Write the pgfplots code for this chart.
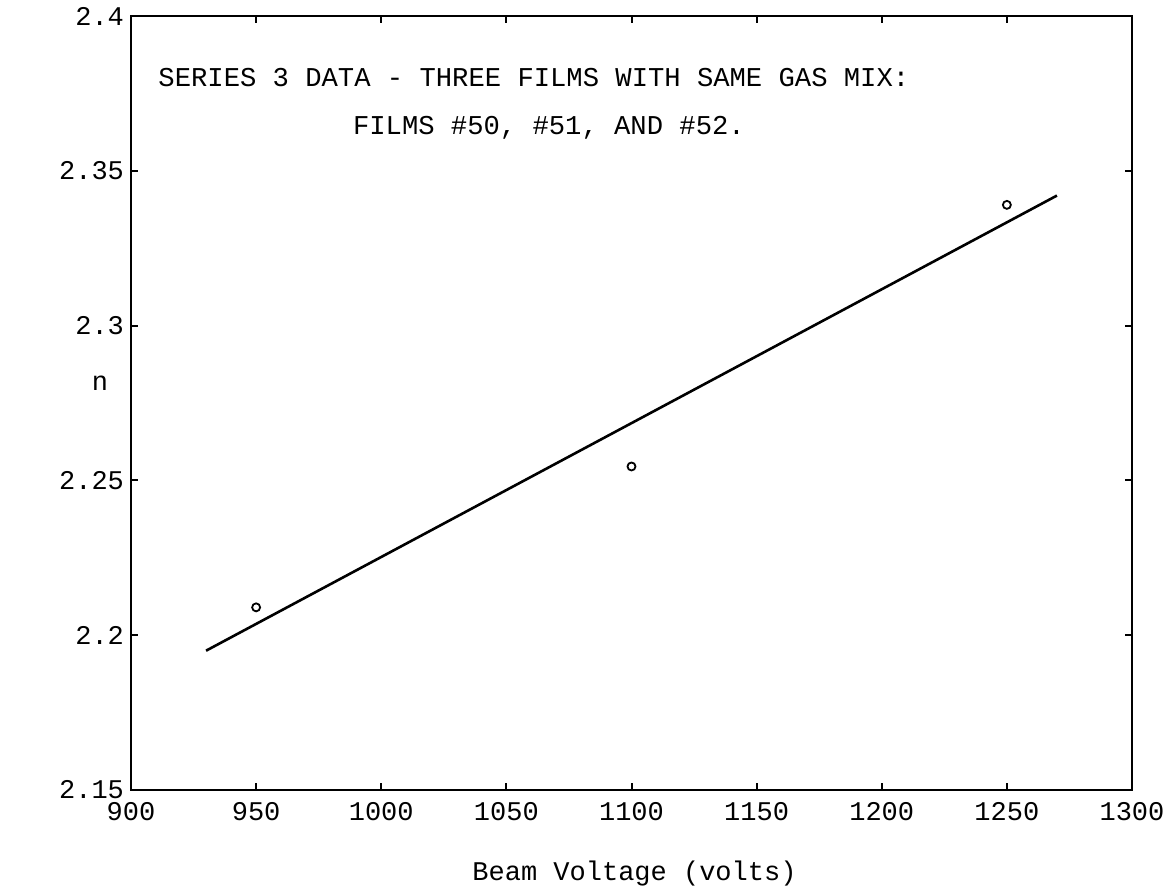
\documentclass[border=0pt]{standalone}
\usepackage{fontspec}
\setmainfont{Liberation Mono}
\usepackage{pgfplots}
\pgfplotsset{compat=1.18}
\begin{document}
\begin{tikzpicture}
\useasboundingbox (-65.5pt,-50.5pt) rectangle (517.5pt,395pt);
\begin{axis}[
  at={(0,0)}, anchor=south west,
  scale only axis, width=500.5pt, height=387pt,
  xmin=900, xmax=1300, ymin=2.15, ymax=2.4,
  xtick={900,950,...,1300},
  xticklabels={900,950,1000,1050,1100,1150,1200,1250,1300},
  ytick={2.15,2.2,2.25,2.3,2.35,2.4},
  yticklabels={2.15,2.2,2.25,2.3,2.35,2.4},
  tick align=inside, major tick length=3.5pt,
  axis line style={line width=1pt},
  tick style={line width=1pt, black},
  tick label style={font=\fontsize{13.5}{15}\selectfont},
  xticklabel style={yshift=-2.5pt},
  label style={font=\fontsize{13.5}{15}\selectfont},
  xlabel={Beam Voltage (volts)},
  ylabel={n},
  xlabel style={at={(axis description cs:0.503,-0.108)}, anchor=center},
  ylabel style={at={(axis description cs:-0.031,0.526)}, rotate=-90, anchor=center},
  clip=false,
]
\addplot[black, line width=1.3pt] coordinates {(930,2.195) (1270,2.342)};
\addplot[only marks, mark=o, mark size=2pt, mark options={line width=0.9pt, black}] coordinates {
  (950,2.209) (1100,2.2545) (1250,2.339)};
\node[font=\fontsize{13.6}{15}\selectfont] at (axis cs:1061,2.380) {SERIES 3 DATA - THREE FILMS WITH SAME GAS MIX:};
\node[font=\fontsize{13.6}{15}\selectfont] at (axis cs:1067,2.364) {FILMS \#50, \#51, AND \#52.};
\end{axis}
\end{tikzpicture}
\end{document}
